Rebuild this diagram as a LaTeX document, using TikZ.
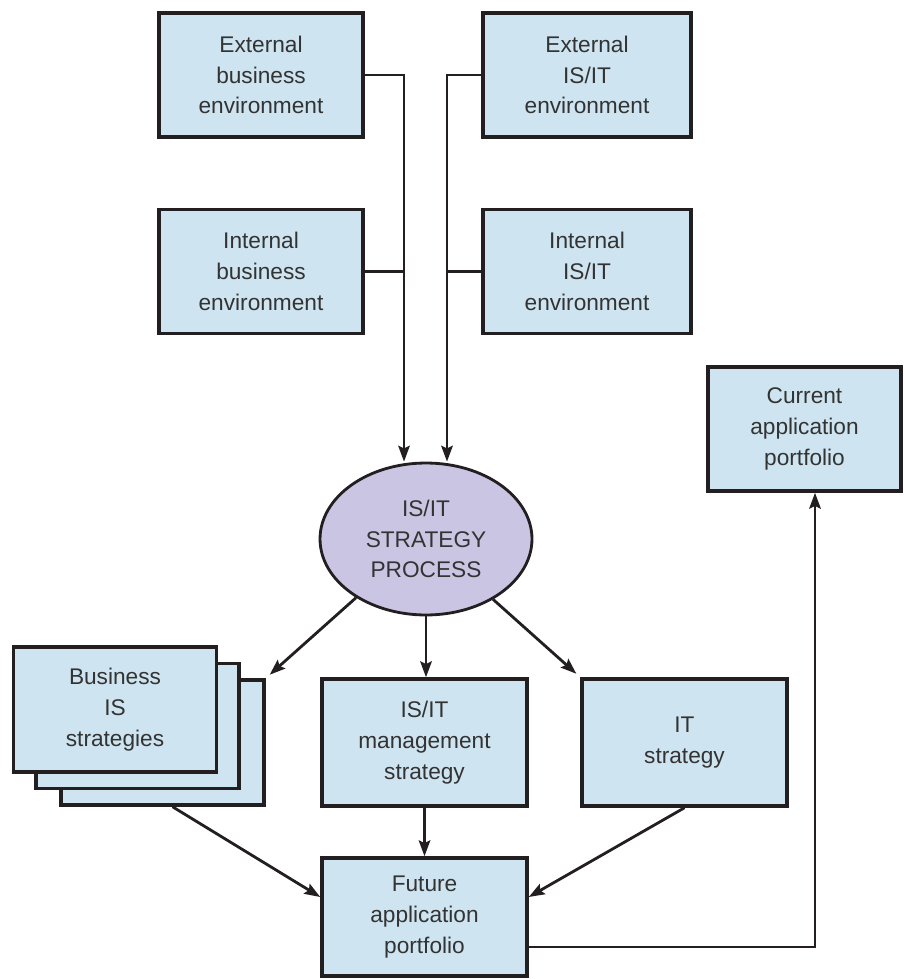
\documentclass[tikz,border=0pt]{standalone}
\usepackage{xcolor}
\usepackage{fontspec}
\setmainfont{Liberation Sans}
\usepackage{tikz}
\usetikzlibrary{shapes,arrows.meta,positioning,calc}
\definecolor{boxblue}{RGB}{206,228,240}
\definecolor{boxpurple}{RGB}{201,197,226}
\definecolor{edgegray}{RGB}{35,31,32}

\begin{document}
\begin{tikzpicture}[
    x=0.02cm, y=-0.02cm,
    box/.style={rectangle, draw=edgegray, line width=2pt, fill=boxblue, align=center, inner sep=0pt, minimum width=4.08cm, minimum height=2.48cm, text=black!80, font=\fontsize{12.9}{17.5}\selectfont},
    proc/.style={ellipse, draw=edgegray, line width=1.6pt, fill=boxpurple, align=center, inner sep=0pt, minimum width=4.24cm, minimum height=3.04cm, text=black!80, font=\fontsize{12.9}{17.5}\selectfont},
    link/.style={draw=edgegray, line width=1.6pt},
    arrow/.style={link, -{Stealth[length=9pt,width=6.5pt,inset=1.5pt]}}
]
    \useasboundingbox (0,0) rectangle (904,979);

    \node[box] (extbus) at (261,75) {External\\business\\environment};
    \node[box, minimum width=4.16cm] (extit) at (587,75) {External\\IS/IT\\environment};
    \node[box] (intbus) at (261,271.5) {Internal\\business\\environment};
    \node[box, minimum width=4.16cm] (intit) at (587,271.5) {Internal\\IS/IT\\environment};
    \node[box, minimum width=3.86cm] (curr) at (804.5,429) {Current\\application\\portfolio};

    \node[proc] (strat) at (426,539) {IS/IT\\STRATEGY\\PROCESS};

    \node[box, minimum width=4.06cm, minimum height=2.5cm] (bizc) at (162.5,742.5) {};
    \node[box, minimum width=4.06cm, minimum height=2.5cm] (bizb) at (137.5,726) {};
    \node[box, minimum width=4.06cm, minimum height=2.5cm] (biza) at (115,709.5) {Business\\IS\\strategies};
    \node[box, minimum width=4.1cm, minimum height=2.54cm] (mgmt) at (424.5,742.5) {IS/IT\\management\\strategy};
    \node[box, minimum width=4.1cm, minimum height=2.54cm] (itstr) at (684.5,742.5) {IT\\strategy};
    \node[box, minimum width=4.1cm, minimum height=2.36cm] (future) at (424.5,917) {Future\\application\\portfolio};

    \coordinate (inL) at ([xshift=-0.44cm]strat.north);
    \coordinate (inR) at ([xshift=0.42cm]strat.north);

    \draw[arrow] (extbus.east) -| (inL);
    \draw[link] (intbus.east) -- (intbus.east -| inL);
    \draw[arrow] (extit.west) -| (inR);
    \draw[link] (intit.west) -- (intit.west -| inR);

    \draw[arrow, shorten >=3pt] (strat.220) -- (bizc.north east);
    \draw[arrow] (strat.south) -- (strat.south |- mgmt.north);
    \draw[arrow, shorten >=3pt] (strat.318) -- (itstr.north west);

    \draw[arrow] ([xshift=0.2cm]bizc.south) -- ([yshift=0.4cm]future.west);
    \draw[arrow] (mgmt.south) -- (future.north);
    \draw[arrow] (itstr.south) -- ([yshift=0.4cm]future.east);
    \draw[arrow] ([yshift=-0.6cm]future.east) -| ([xshift=0.21cm]curr.south);
\end{tikzpicture}
\end{document}
